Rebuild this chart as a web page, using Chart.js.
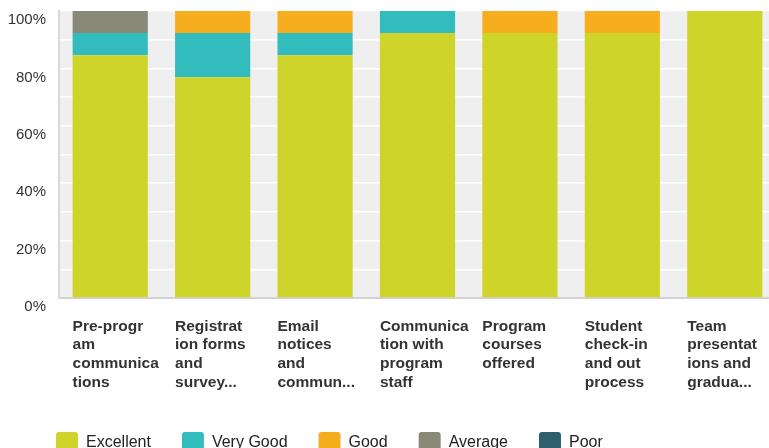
<!DOCTYPE html>
<html>
<head>
<meta charset="utf-8">
<script src="https://cdn.jsdelivr.net/npm/chart.js@4/dist/chart.umd.min.js"></script>
<style>
  html, body { margin: 0; padding: 0; background: #ffffff; overflow: hidden; }
  #wrap { position: relative; width: 776px; height: 476px; }
</style>
</head>
<body>
<div id="wrap"><canvas id="c"></canvas></div>
<script>
const categories = [
  "Pre-program communications",
  "Registration forms and survey...",
  "Email notices and commun...",
  "Communication with program staff",
  "Program courses offered",
  "Student check-in and out process",
  "Team presentations and gradua..."
];
const categoryLines = [
  ["Pre-progr", "am", "communica", "tions"],
  ["Registrat", "ion forms", "and", "survey..."],
  ["Email", "notices", "and", "commun..."],
  ["Communica", "tion with", "program", "staff"],
  ["Program", "courses", "offered"],
  ["Student", "check-in", "and out", "process"],
  ["Team", "presentat", "ions and", "gradua..."]
];
const excellent = [84.62, 76.92, 84.62, 92.31, 92.31, 92.31, 100];
const veryGood  = [7.69, 15.38, 7.69, 7.69, 0, 0, 0];
const good      = [0, 7.69, 7.69, 0, 7.69, 7.69, 0];
const average   = [7.69, 0, 0, 0, 0, 0, 0];
const poor      = [0, 0, 0, 0, 0, 0, 0];
const yTicks = [0, 20, 40, 60, 80, 100];

const FONT = "'Liberation Sans', Arial, Helvetica, sans-serif";

const plotBg = {
  id: 'plotBg',
  beforeDraw(chart) {
    const { ctx, chartArea: a } = chart;
    ctx.save();
    ctx.fillStyle = '#efefef';
    ctx.fillRect(a.left, a.top, a.right - a.left, a.bottom - a.top);
    ctx.restore();
  }
};

const legendPlace = {
  id: 'legendPlace',
  afterLayout(chart) {
    const lg = chart.legend;
    if (!lg) return;
    const pad = lg.options.labels.padding;
    lg.left = 56 - pad;
    lg.top = 432 - pad;
  }
};

function ds(label, data, color) {
  return { label, data, backgroundColor: color, borderWidth: 0,
           categoryPercentage: 1.0, barPercentage: 0.734 };
}

new Chart(document.getElementById('c'), {
  type: 'bar',
  data: {
    labels: categories,
    datasets: [
      ds('Excellent', excellent, '#cfd42a'),
      ds('Very Good', veryGood, '#33bcbe'),
      ds('Good', good, '#f7ae1e'),
      ds('Average', average, '#898978'),
      ds('Poor', poor, '#2e5f6d')
    ]
  },
  options: {
    responsive: true,
    maintainAspectRatio: false,
    animation: false,
    layout: { padding: { left: 8, top: 11, right: 0, bottom: 2 } },
    font: { family: FONT },
    scales: {
      x: {
        stacked: true,
        display: false
      },
      x2: {
        type: 'linear',
        position: 'bottom',
        offset: false,
        min: -0.5,
        max: 6.5,
        bounds: 'data',
        afterBuildTicks(scale) {
          scale.ticks = categories.map((c, i) => ({ value: i - 0.367 }));
        },
        afterFit(scale) {
          scale.paddingLeft = 0;
          scale.paddingRight = 0;
        },
        grid: { display: false, drawTicks: false, offset: false },
        border: { display: true, color: '#d2d2d2', width: 2 },
        ticks: {
          autoSkip: false,
          maxRotation: 0,
          minRotation: 0,
          align: 'start',
          padding: 19,
          color: '#333333',
          font: { family: FONT, size: 15.5, weight: 'bold', lineHeight: 1.21 },
          callback: (v, i) => categoryLines[i]
        }
      },
      y: {
        stacked: true,
        min: 0,
        max: 100,
        afterBuildTicks(scale) {
          const t = [];
          for (let v = 0; v <= 100; v += 10) t.push({ value: v });
          scale.ticks = t;
        },
        afterFit(scale) {
          scale.width = 51;
          scale.paddingTop = 0;
          scale.paddingBottom = 0;
        },
        grid: { color: '#ffffff', lineWidth: 1.5, drawTicks: false },
        border: { display: true, color: '#d9d9d9', width: 2 },
        ticks: {
          padding: 13,
          labelOffset: 9,
          color: '#333333',
          font: { family: FONT, size: 15 },
          callback: (v) => yTicks.includes(v) ? v + '%' : ''
        }
      }
    },
    plugins: {
      tooltip: { enabled: false },
      legend: {
        position: 'bottom',
        align: 'start',
        labels: {
          boxWidth: 22,
          boxHeight: 22,
          padding: 31,
          useBorderRadius: true,
          borderRadius: 3,
          color: '#222222',
          font: { family: FONT, size: 16 }
        }
      }
    }
  },
  plugins: [plotBg, legendPlace]
});
</script>
</body>
</html>
